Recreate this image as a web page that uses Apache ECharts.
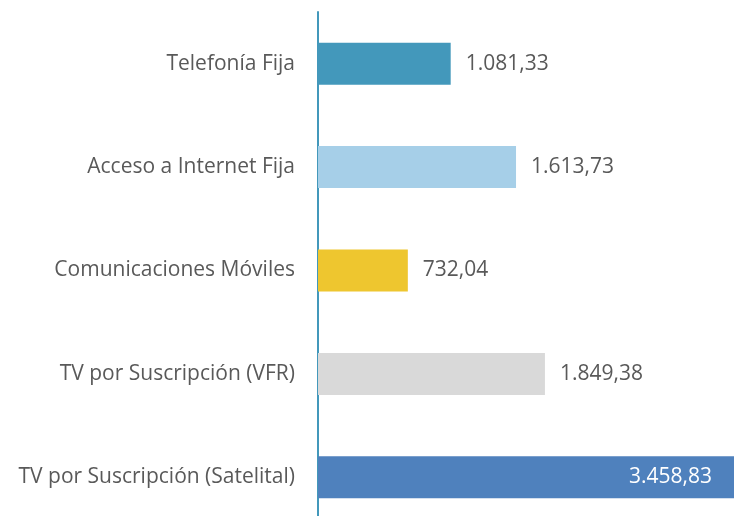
<!DOCTYPE html>
<html>
<head>
<meta charset="utf-8">
<script src="https://cdn.jsdelivr.net/npm/echarts@6/dist/echarts.min.js"></script>
<style>
  html, body { margin: 0; padding: 0; background: #fff; overflow: hidden; }
  #main { width: 734px; height: 540px; }
</style>
</head>
<body>
<div id="main"></div>
<script>
// categorias y valores
var categories = ['Telefonía Fija', 'Acceso a Internet Fija', 'Comunicaciones Móviles', 'TV por Suscripción (VFR)', 'TV por Suscripción (Satelital)'];
var values = [1081.33, 1613.73, 732.04, 1849.38, 3458.83];
var barColors = ['#4398BB', '#A6CFE8', '#EEC62F', '#D9D9D9', '#4F81BD'];

// formato 1.234,56
function fmt(v) {
  var parts = v.toFixed(2).split('.');
  var ent = parts[0].replace(/\B(?=(\d{3})+(?!\d))/g, '.');
  return ent + ',' + parts[1];
}

var chart = echarts.init(document.getElementById('main'));

var data = values.map(function (v, i) {
  var item = { value: v, itemStyle: { color: barColors[i] } };
  if (i == values.length - 1) {
    // el ultimo va dentro, en blanco
    item.label = { position: 'insideRight', color: '#ffffff', distance: 22 };
  }
  return item;
});

var option = {
  animation: false,
  grid: { left: 318, right: 0, top: 12, height: 517, containLabel: false },
  xAxis: {
    type: 'value',
    min: 0,
    max: 3390,
    show: false
  },
  yAxis: {
    type: 'category',
    inverse: true,
    data: categories,
    axisLine: { show: true, lineStyle: { color: '#4398BB', width: 2 } },
    axisTick: { show: false },
    axisLabel: { margin: 23, color: '#595959', fontSize: 21, fontFamily: 'Open Sans' }
  },
  series: [{
    type: 'bar',
    barWidth: 42,
    clip: true,
    data: data,
    label: {
      show: true,
      position: 'right',
      distance: 15,
      color: '#595959',
      fontSize: 21,
      fontFamily: 'Open Sans',
      formatter: function (p) { return fmt(p.value); }
    }
  }]
};
chart.setOption(option);
</script>
</body>
</html>
